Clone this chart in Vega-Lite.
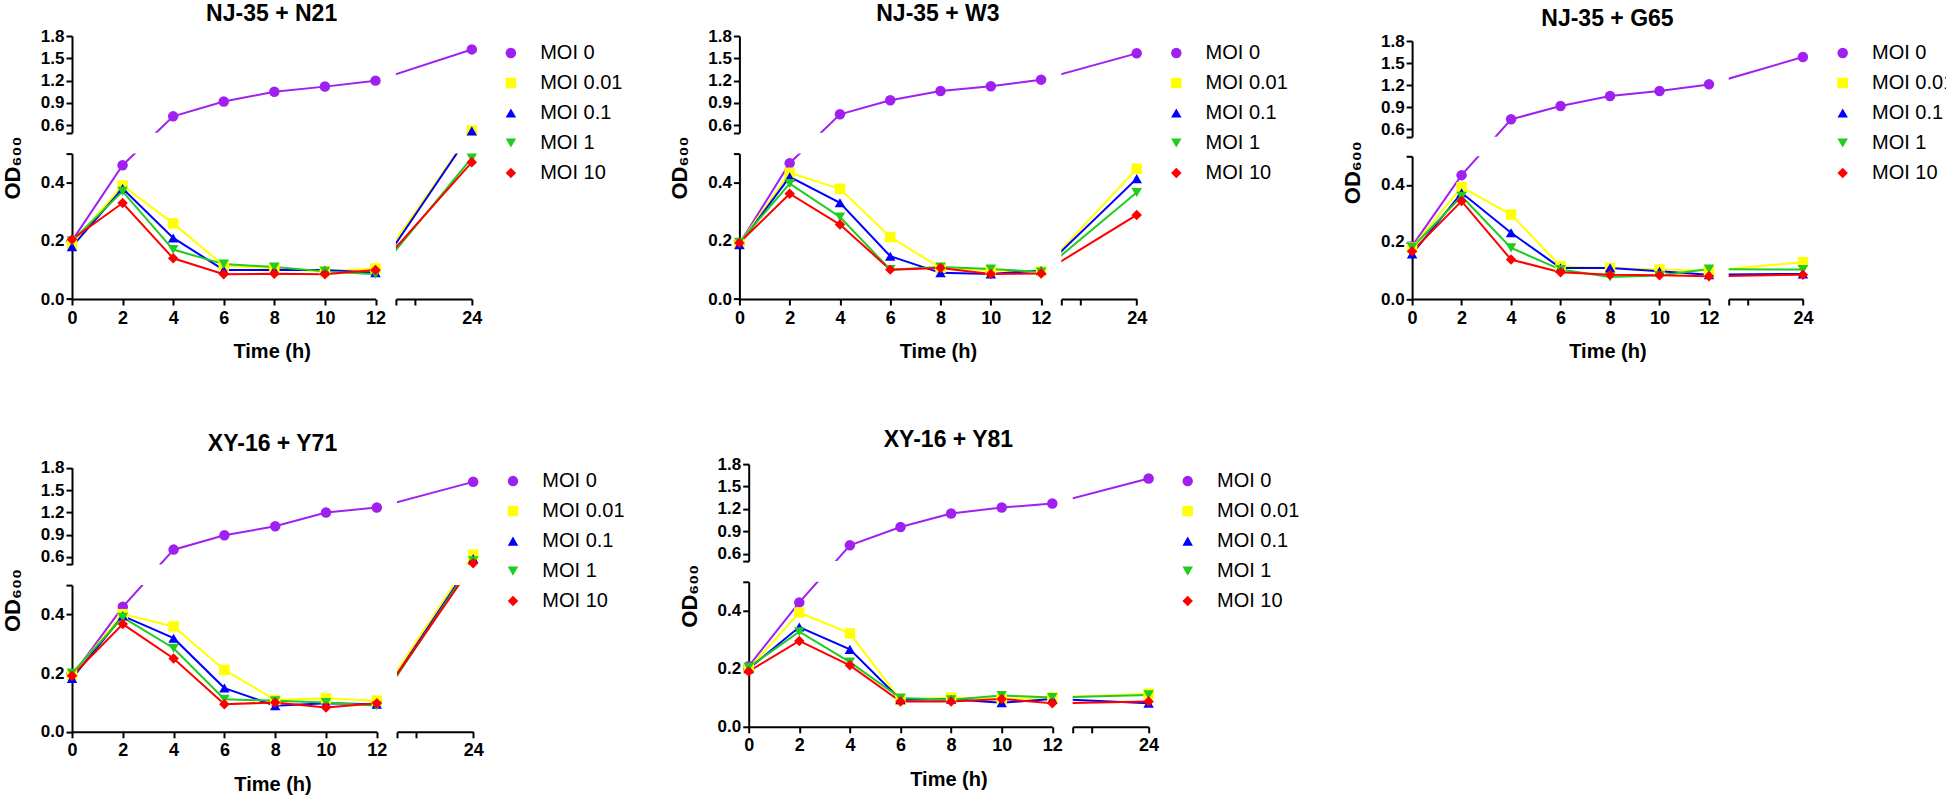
{
  "$schema": "https://vega.github.io/schema/vega-lite/v6.json",
  "background": "white",
  "padding": {"left": 1, "top": 3, "right": 0, "bottom": 0},
  "datasets": {
    "p1": [
      {"m":"MOI 0","t":0,"v":0.20},{"m":"MOI 0","t":2,"v":0.46},{"m":"MOI 0","t":4,"v":0.72},{"m":"MOI 0","t":6,"v":0.92},{"m":"MOI 0","t":8,"v":1.05},{"m":"MOI 0","t":10,"v":1.12},{"m":"MOI 0","t":12,"v":1.20},{"m":"MOI 0","t":24,"v":1.62},
      {"m":"MOI 0.01","t":0,"v":0.19},{"m":"MOI 0.01","t":2,"v":0.39},{"m":"MOI 0.01","t":4,"v":0.26},{"m":"MOI 0.01","t":6,"v":0.115},{"m":"MOI 0.01","t":8,"v":0.105},{"m":"MOI 0.01","t":10,"v":0.095},{"m":"MOI 0.01","t":12,"v":0.105},{"m":"MOI 0.01","t":24,"v":0.53},
      {"m":"MOI 0.1","t":0,"v":0.18},{"m":"MOI 0.1","t":2,"v":0.38},{"m":"MOI 0.1","t":4,"v":0.21},{"m":"MOI 0.1","t":6,"v":0.10},{"m":"MOI 0.1","t":8,"v":0.10},{"m":"MOI 0.1","t":10,"v":0.10},{"m":"MOI 0.1","t":12,"v":0.09},{"m":"MOI 0.1","t":24,"v":0.525},
      {"m":"MOI 1","t":0,"v":0.20},{"m":"MOI 1","t":2,"v":0.37},{"m":"MOI 1","t":4,"v":0.17},{"m":"MOI 1","t":6,"v":0.12},{"m":"MOI 1","t":8,"v":0.11},{"m":"MOI 1","t":10,"v":0.095},{"m":"MOI 1","t":12,"v":0.085},{"m":"MOI 1","t":24,"v":0.485},
      {"m":"MOI 10","t":0,"v":0.205},{"m":"MOI 10","t":2,"v":0.33},{"m":"MOI 10","t":4,"v":0.14},{"m":"MOI 10","t":6,"v":0.085},{"m":"MOI 10","t":8,"v":0.087},{"m":"MOI 10","t":10,"v":0.085},{"m":"MOI 10","t":12,"v":0.10},{"m":"MOI 10","t":24,"v":0.47}
    ],
    "p2": [
      {"m":"MOI 0","t":0,"v":0.19},{"m":"MOI 0","t":2,"v":0.467},{"m":"MOI 0","t":4,"v":0.748},{"m":"MOI 0","t":6,"v":0.936},{"m":"MOI 0","t":8,"v":1.061},{"m":"MOI 0","t":10,"v":1.124},{"m":"MOI 0","t":12,"v":1.213},{"m":"MOI 0","t":24,"v":1.567},
      {"m":"MOI 0.01","t":0,"v":0.19},{"m":"MOI 0.01","t":2,"v":0.434},{"m":"MOI 0.01","t":4,"v":0.379},{"m":"MOI 0.01","t":6,"v":0.213},{"m":"MOI 0.01","t":8,"v":0.107},{"m":"MOI 0.01","t":10,"v":0.098},{"m":"MOI 0.01","t":12,"v":0.095},{"m":"MOI 0.01","t":24,"v":0.448},
      {"m":"MOI 0.1","t":0,"v":0.187},{"m":"MOI 0.1","t":2,"v":0.42},{"m":"MOI 0.1","t":4,"v":0.331},{"m":"MOI 0.1","t":6,"v":0.147},{"m":"MOI 0.1","t":8,"v":0.09},{"m":"MOI 0.1","t":10,"v":0.086},{"m":"MOI 0.1","t":12,"v":0.098},{"m":"MOI 0.1","t":24,"v":0.414},
      {"m":"MOI 1","t":0,"v":0.195},{"m":"MOI 1","t":2,"v":0.397},{"m":"MOI 1","t":4,"v":0.282},{"m":"MOI 1","t":6,"v":0.101},{"m":"MOI 1","t":8,"v":0.11},{"m":"MOI 1","t":10,"v":0.103},{"m":"MOI 1","t":12,"v":0.093},{"m":"MOI 1","t":24,"v":0.366},
      {"m":"MOI 10","t":0,"v":0.193},{"m":"MOI 10","t":2,"v":0.362},{"m":"MOI 10","t":4,"v":0.256},{"m":"MOI 10","t":6,"v":0.101},{"m":"MOI 10","t":8,"v":0.107},{"m":"MOI 10","t":10,"v":0.086},{"m":"MOI 10","t":12,"v":0.088},{"m":"MOI 10","t":24,"v":0.289}
    ],
    "p3": [
      {"m":"MOI 0","t":0,"v":0.185},{"m":"MOI 0","t":2,"v":0.434},{"m":"MOI 0","t":4,"v":0.736},{"m":"MOI 0","t":6,"v":0.917},{"m":"MOI 0","t":8,"v":1.053},{"m":"MOI 0","t":10,"v":1.121},{"m":"MOI 0","t":12,"v":1.211},{"m":"MOI 0","t":24,"v":1.583},
      {"m":"MOI 0.01","t":0,"v":0.18},{"m":"MOI 0.01","t":2,"v":0.392},{"m":"MOI 0.01","t":4,"v":0.296},{"m":"MOI 0.01","t":6,"v":0.115},{"m":"MOI 0.01","t":8,"v":0.109},{"m":"MOI 0.01","t":10,"v":0.103},{"m":"MOI 0.01","t":12,"v":0.099},{"m":"MOI 0.01","t":24,"v":0.129},
      {"m":"MOI 0.1","t":0,"v":0.158},{"m":"MOI 0.1","t":2,"v":0.372},{"m":"MOI 0.1","t":4,"v":0.232},{"m":"MOI 0.1","t":6,"v":0.109},{"m":"MOI 0.1","t":8,"v":0.109},{"m":"MOI 0.1","t":10,"v":0.097},{"m":"MOI 0.1","t":12,"v":0.085},{"m":"MOI 0.1","t":24,"v":0.088},
      {"m":"MOI 1","t":0,"v":0.18},{"m":"MOI 1","t":2,"v":0.36},{"m":"MOI 1","t":4,"v":0.179},{"m":"MOI 1","t":6,"v":0.103},{"m":"MOI 1","t":8,"v":0.077},{"m":"MOI 1","t":10,"v":0.082},{"m":"MOI 1","t":12,"v":0.105},{"m":"MOI 1","t":24,"v":0.103},
      {"m":"MOI 10","t":0,"v":0.167},{"m":"MOI 10","t":2,"v":0.343},{"m":"MOI 10","t":4,"v":0.138},{"m":"MOI 10","t":6,"v":0.094},{"m":"MOI 10","t":8,"v":0.085},{"m":"MOI 10","t":10,"v":0.083},{"m":"MOI 10","t":12,"v":0.08},{"m":"MOI 10","t":24,"v":0.085}
    ],
    "p4": [
      {"m":"MOI 0","t":0,"v":0.19},{"m":"MOI 0","t":2,"v":0.426},{"m":"MOI 0","t":4,"v":0.699},{"m":"MOI 0","t":6,"v":0.892},{"m":"MOI 0","t":8,"v":1.013},{"m":"MOI 0","t":10,"v":1.198},{"m":"MOI 0","t":12,"v":1.265},{"m":"MOI 0","t":24,"v":1.611},
      {"m":"MOI 0.01","t":0,"v":0.195},{"m":"MOI 0.01","t":2,"v":0.401},{"m":"MOI 0.01","t":4,"v":0.359},{"m":"MOI 0.01","t":6,"v":0.211},{"m":"MOI 0.01","t":8,"v":0.108},{"m":"MOI 0.01","t":10,"v":0.114},{"m":"MOI 0.01","t":12,"v":0.106},{"m":"MOI 0.01","t":24,"v":0.63},
      {"m":"MOI 0.1","t":0,"v":0.182},{"m":"MOI 0.1","t":2,"v":0.395},{"m":"MOI 0.1","t":4,"v":0.319},{"m":"MOI 0.1","t":6,"v":0.149},{"m":"MOI 0.1","t":8,"v":0.089},{"m":"MOI 0.1","t":10,"v":0.097},{"m":"MOI 0.1","t":12,"v":0.094},{"m":"MOI 0.1","t":24,"v":0.58},
      {"m":"MOI 1","t":0,"v":0.2},{"m":"MOI 1","t":2,"v":0.39},{"m":"MOI 1","t":4,"v":0.285},{"m":"MOI 1","t":6,"v":0.111},{"m":"MOI 1","t":8,"v":0.106},{"m":"MOI 1","t":10,"v":0.1},{"m":"MOI 1","t":12,"v":0.089},{"m":"MOI 1","t":24,"v":0.55},
      {"m":"MOI 10","t":0,"v":0.191},{"m":"MOI 10","t":2,"v":0.367},{"m":"MOI 10","t":4,"v":0.25},{"m":"MOI 10","t":6,"v":0.094},{"m":"MOI 10","t":8,"v":0.1},{"m":"MOI 10","t":10,"v":0.083},{"m":"MOI 10","t":12,"v":0.097},{"m":"MOI 10","t":24,"v":0.515}
    ],
    "p5": [
      {"m":"MOI 0","t":0,"v":0.209},{"m":"MOI 0","t":2,"v":0.429},{"m":"MOI 0","t":4,"v":0.712},{"m":"MOI 0","t":6,"v":0.958},{"m":"MOI 0","t":8,"v":1.137},{"m":"MOI 0","t":10,"v":1.218},{"m":"MOI 0","t":12,"v":1.272},{"m":"MOI 0","t":24,"v":1.607},
      {"m":"MOI 0.01","t":0,"v":0.2},{"m":"MOI 0.01","t":2,"v":0.394},{"m":"MOI 0.01","t":4,"v":0.322},{"m":"MOI 0.01","t":6,"v":0.093},{"m":"MOI 0.01","t":8,"v":0.101},{"m":"MOI 0.01","t":10,"v":0.096},{"m":"MOI 0.01","t":12,"v":0.101},{"m":"MOI 0.01","t":24,"v":0.114},
      {"m":"MOI 0.1","t":0,"v":0.2},{"m":"MOI 0.1","t":2,"v":0.344},{"m":"MOI 0.1","t":4,"v":0.267},{"m":"MOI 0.1","t":6,"v":0.093},{"m":"MOI 0.1","t":8,"v":0.095},{"m":"MOI 0.1","t":10,"v":0.083},{"m":"MOI 0.1","t":12,"v":0.096},{"m":"MOI 0.1","t":24,"v":0.081},
      {"m":"MOI 1","t":0,"v":0.205},{"m":"MOI 1","t":2,"v":0.328},{"m":"MOI 1","t":4,"v":0.223},{"m":"MOI 1","t":6,"v":0.099},{"m":"MOI 1","t":8,"v":0.093},{"m":"MOI 1","t":10,"v":0.108},{"m":"MOI 1","t":12,"v":0.101},{"m":"MOI 1","t":24,"v":0.11},
      {"m":"MOI 10","t":0,"v":0.191},{"m":"MOI 10","t":2,"v":0.296},{"m":"MOI 10","t":4,"v":0.212},{"m":"MOI 10","t":6,"v":0.087},{"m":"MOI 10","t":8,"v":0.087},{"m":"MOI 10","t":10,"v":0.096},{"m":"MOI 10","t":12,"v":0.081},{"m":"MOI 10","t":24,"v":0.087}
    ]
  },
  "config": {
    "view": {"stroke": null},
    "font": "Liberation Sans",
    "axis": {"domainColor": "black", "domainWidth": 2, "tickColor": "black", "tickWidth": 2, "tickSize": 6, "labelFont": "Liberation Sans", "labelFontWeight": "bold", "labelColor": "black", "labelFontSize": 17, "titleFont": "Liberation Sans", "titleFontWeight": "bold", "titleColor": "black", "titleFontSize": 20, "grid": false, "zindex": 0, "labelOverlap": false, "labelFlush": false},
    "axisX": {"labelFontSize": 18, "labelPadding": 4, "titlePadding": 14.5},
    "axisY": {"titleFontSize": 22, "titlePadding": 16, "labelPadding": 2},
    "title": {"font": "Liberation Sans", "fontSize": 23, "fontWeight": "bold", "color": "black", "anchor": "middle", "frame": "group"},
    "legend": {"orient": "right", "offset": 22, "padding": 7, "rowPadding": 10, "symbolSize": 110, "labelFont": "Liberation Sans", "labelFontSize": 20, "labelColor": "black", "labelOffset": 19.3, "symbolOpacity": 1, "labelLimit": 300}
  },
  "spacing": 67.1,
  "resolve": {"scale": {"color": "independent", "shape": "independent", "stroke": "independent"}, "legend": {"color": "independent", "shape": "independent", "stroke": "independent"}},
  "vconcat": [
    {
      "spacing": 38.4,
      "resolve": {"scale": {"color": "independent", "shape": "independent", "stroke": "independent"}, "legend": {"color": "independent", "shape": "independent", "stroke": "independent"}},
      "hconcat": [
        {
          "data": {"name": "p1"},
          "columns": 2, "bounds": "flush", "spacing": {"row": 20.6, "column": 19.9},
          "resolve": {"scale": {"color": "independent", "shape": "independent", "stroke": "independent"}, "legend": {"color": "independent", "shape": "independent", "stroke": "independent"}},
          "concat": [
            {"width": 303.5, "height": 96.7,
             "title": {"text": "NJ-35 + N21", "offset": 0.9, "dx": 47.9},
             "resolve": {"scale": {"x": "independent", "y": "independent"}, "axis": {"x": "independent", "y": "independent"}},
             "layer": [
               {"mark": {"type": "line", "clip": true, "strokeWidth": 2}, "encoding": {
                 "x": {"field": "t", "type": "quantitative", "scale": {"domain": [0, 12, 21, 24], "range": [0, 303.5, 323.4, 399.3], "nice": false, "zero": false}, "axis": null},
                 "y": {"field": "v", "type": "quantitative", "scale": {"domain": [0, 0.5, 0.501, 1.8], "range": [262.7, 117.3, 96.7, 0], "nice": false, "zero": false}, "axis": null},
                 "stroke": {"field": "m", "type": "nominal", "scale": {"domain": ["MOI 10", "MOI 1", "MOI 0.1", "MOI 0.01", "MOI 0"], "range": ["#FF0000", "#1FCC1F", "#0000FF", "#FFFF00", "#A020F0"]}, "legend": null}}},
               {"transform": [{"filter": "datum.t <= 12 && datum.v > 0.5"}], "mark": {"type": "point", "filled": true, "opacity": 1, "size": 110}, "encoding": {
                 "x": {"field": "t", "type": "quantitative", "scale": {"domain": [0, 12], "range": [0, 303.5], "nice": false, "zero": false}, "axis": null},
                 "y": {"field": "v", "type": "quantitative", "scale": {"domain": [0.5, 1.8], "range": [96.7, 0], "nice": false, "zero": false}, "axis": {"orient": "left", "title": null, "values": [0.5, 0.6, 0.9, 1.2, 1.5, 1.8], "format": ".1f", "labelExpr": "datum.value == 0.5 ? '' : datum.label"}},
                 "color": {"field": "m", "type": "nominal", "scale": {"domain": ["MOI 0", "MOI 0.01", "MOI 0.1", "MOI 1", "MOI 10"], "range": ["#A020F0", "#FFFF00", "#0000FF", "#1FCC1F", "#FF0000"]}, "legend": null},
                 "shape": {"field": "m", "type": "nominal", "scale": {"domain": ["MOI 0", "MOI 0.01", "MOI 0.1", "MOI 1", "MOI 10"], "range": ["circle", "square", "triangle-up", "triangle-down", "diamond"]}, "legend": null}}}
             ]},
            {"width": 75.9, "height": 96.7,
             "resolve": {"scale": {"x": "independent", "y": "independent"}, "axis": {"x": "independent", "y": "independent"}},
             "layer": [
               {"mark": {"type": "line", "clip": true, "strokeWidth": 2}, "encoding": {
                 "x": {"field": "t", "type": "quantitative", "scale": {"domain": [0, 12, 21, 24], "range": [-323.4, -19.9, 0, 75.9], "nice": false, "zero": false}, "axis": null},
                 "y": {"field": "v", "type": "quantitative", "scale": {"domain": [0, 0.5, 0.501, 1.8], "range": [262.7, 117.3, 96.7, 0], "nice": false, "zero": false}, "axis": null},
                 "stroke": {"field": "m", "type": "nominal", "scale": {"domain": ["MOI 10", "MOI 1", "MOI 0.1", "MOI 0.01", "MOI 0"], "range": ["#FF0000", "#1FCC1F", "#0000FF", "#FFFF00", "#A020F0"]}, "legend": null}}},
               {"transform": [{"filter": "datum.t > 12 && datum.v > 0.5"}], "mark": {"type": "point", "filled": true, "opacity": 1, "size": 110}, "encoding": {
                 "x": {"field": "t", "type": "quantitative", "scale": {"domain": [21, 24], "range": [0, 75.9], "nice": false, "zero": false}, "axis": null},
                 "y": {"field": "v", "type": "quantitative", "scale": {"domain": [0.5, 1.8], "range": [96.7, 0], "nice": false, "zero": false}, "axis": null},
                 "color": {"field": "m", "type": "nominal", "scale": {"domain": ["MOI 0", "MOI 0.01", "MOI 0.1", "MOI 1", "MOI 10"], "range": ["#A020F0", "#FFFF00", "#0000FF", "#1FCC1F", "#FF0000"]}, "legend": {"title": null}},
                 "shape": {"field": "m", "type": "nominal", "scale": {"domain": ["MOI 0", "MOI 0.01", "MOI 0.1", "MOI 1", "MOI 10"], "range": ["circle", "square", "triangle-up", "triangle-down", "diamond"]}, "legend": {"title": null}}}}
             ]},
            {"width": 303.5, "height": 145.4,
             "resolve": {"scale": {"x": "independent", "y": "independent"}, "axis": {"x": "independent", "y": "independent"}},
             "layer": [
               {"mark": {"type": "line", "clip": true, "strokeWidth": 2}, "encoding": {
                 "x": {"field": "t", "type": "quantitative", "scale": {"domain": [0, 12, 21, 24], "range": [0, 303.5, 323.4, 399.3], "nice": false, "zero": false}, "axis": null},
                 "y": {"field": "v", "type": "quantitative", "scale": {"domain": [0, 0.5, 0.501, 1.8], "range": [145.4, 0, -20.6, -117.3], "nice": false, "zero": false}, "axis": null},
                 "stroke": {"field": "m", "type": "nominal", "scale": {"domain": ["MOI 10", "MOI 1", "MOI 0.1", "MOI 0.01", "MOI 0"], "range": ["#FF0000", "#1FCC1F", "#0000FF", "#FFFF00", "#A020F0"]}, "legend": null}}},
               {"transform": [{"filter": "datum.t <= 12 && datum.v <= 0.5"}], "mark": {"type": "point", "filled": true, "opacity": 1, "size": 110}, "encoding": {
                 "x": {"field": "t", "type": "quantitative", "scale": {"domain": [0, 12], "range": [0, 303.5], "nice": false, "zero": false}, "axis": {"orient": "bottom", "title": "Time (h)", "titleX": 199.65, "values": [0, 2, 4, 6, 8, 10, 12]}},
                 "y": {"field": "v", "type": "quantitative", "scale": {"domain": [0, 0.5], "range": [145.4, 0], "nice": false, "zero": false}, "axis": {"orient": "left", "title": "OD₆₀₀", "titleY": 14, "values": [0, 0.2, 0.4, 0.5], "format": ".1f", "labelExpr": "datum.value == 0.5 ? '' : datum.label"}},
                 "color": {"field": "m", "type": "nominal", "scale": {"domain": ["MOI 0", "MOI 0.01", "MOI 0.1", "MOI 1", "MOI 10"], "range": ["#A020F0", "#FFFF00", "#0000FF", "#1FCC1F", "#FF0000"]}, "legend": null},
                 "shape": {"field": "m", "type": "nominal", "scale": {"domain": ["MOI 0", "MOI 0.01", "MOI 0.1", "MOI 1", "MOI 10"], "range": ["circle", "square", "triangle-up", "triangle-down", "diamond"]}, "legend": null}}}
             ]},
            {"width": 75.9, "height": 145.4,
             "resolve": {"scale": {"x": "independent", "y": "independent"}, "axis": {"x": "independent", "y": "independent"}},
             "layer": [
               {"mark": {"type": "line", "clip": true, "strokeWidth": 2}, "encoding": {
                 "x": {"field": "t", "type": "quantitative", "scale": {"domain": [0, 12, 21, 24], "range": [-323.4, -19.9, 0, 75.9], "nice": false, "zero": false}, "axis": null},
                 "y": {"field": "v", "type": "quantitative", "scale": {"domain": [0, 0.5, 0.501, 1.8], "range": [145.4, 0, -20.6, -117.3], "nice": false, "zero": false}, "axis": null},
                 "stroke": {"field": "m", "type": "nominal", "scale": {"domain": ["MOI 10", "MOI 1", "MOI 0.1", "MOI 0.01", "MOI 0"], "range": ["#FF0000", "#1FCC1F", "#0000FF", "#FFFF00", "#A020F0"]}, "legend": null}}},
               {"transform": [{"filter": "datum.t > 12 && datum.v <= 0.5"}], "mark": {"type": "point", "filled": true, "opacity": 1, "size": 110}, "encoding": {
                 "x": {"field": "t", "type": "quantitative", "scale": {"domain": [21, 24], "range": [0, 75.9], "nice": false, "zero": false}, "axis": {"orient": "bottom", "title": null, "values": [21, 21.75, 24], "labelExpr": "datum.value == 24 ? datum.label : ''"}},
                 "y": {"field": "v", "type": "quantitative", "scale": {"domain": [0, 0.5], "range": [145.4, 0], "nice": false, "zero": false}, "axis": null},
                 "color": {"field": "m", "type": "nominal", "scale": {"domain": ["MOI 0", "MOI 0.01", "MOI 0.1", "MOI 1", "MOI 10"], "range": ["#A020F0", "#FFFF00", "#0000FF", "#1FCC1F", "#FF0000"]}, "legend": null},
                 "shape": {"field": "m", "type": "nominal", "scale": {"domain": ["MOI 0", "MOI 0.01", "MOI 0.1", "MOI 1", "MOI 10"], "range": ["circle", "square", "triangle-up", "triangle-down", "diamond"]}, "legend": null}}}
             ]}
          ]
        },
        {
          "spacing": 45.7,
          "resolve": {"scale": {"color": "independent", "shape": "independent", "stroke": "independent"}, "legend": {"color": "independent", "shape": "independent", "stroke": "independent"}},
          "hconcat": [
            {
              "data": {"name": "p2"},
              "columns": 2, "bounds": "flush", "spacing": {"row": 20.6, "column": 19.9},
              "resolve": {"scale": {"color": "independent", "shape": "independent", "stroke": "independent"}, "legend": {"color": "independent", "shape": "independent", "stroke": "independent"}},
              "concat": [
                {"width": 301.7, "height": 96.7,
                 "title": {"text": "NJ-35 + W3", "offset": 0.9, "dx": 47.65},
                 "resolve": {"scale": {"x": "independent", "y": "independent"}, "axis": {"x": "independent", "y": "independent"}},
                 "layer": [
                   {"mark": {"type": "line", "clip": true, "strokeWidth": 2}, "encoding": {
                     "x": {"field": "t", "type": "quantitative", "scale": {"domain": [0, 12, 21, 24], "range": [0, 301.7, 321.6, 397], "nice": false, "zero": false}, "axis": null},
                     "y": {"field": "v", "type": "quantitative", "scale": {"domain": [0, 0.5, 0.501, 1.8], "range": [262.7, 117.3, 96.7, 0], "nice": false, "zero": false}, "axis": null},
                     "stroke": {"field": "m", "type": "nominal", "scale": {"domain": ["MOI 10", "MOI 1", "MOI 0.1", "MOI 0.01", "MOI 0"], "range": ["#FF0000", "#1FCC1F", "#0000FF", "#FFFF00", "#A020F0"]}, "legend": null}}},
                   {"transform": [{"filter": "datum.t <= 12 && datum.v > 0.5"}], "mark": {"type": "point", "filled": true, "opacity": 1, "size": 110}, "encoding": {
                     "x": {"field": "t", "type": "quantitative", "scale": {"domain": [0, 12], "range": [0, 301.7], "nice": false, "zero": false}, "axis": null},
                     "y": {"field": "v", "type": "quantitative", "scale": {"domain": [0.5, 1.8], "range": [96.7, 0], "nice": false, "zero": false}, "axis": {"orient": "left", "title": null, "values": [0.5, 0.6, 0.9, 1.2, 1.5, 1.8], "format": ".1f", "labelExpr": "datum.value == 0.5 ? '' : datum.label"}},
                     "color": {"field": "m", "type": "nominal", "scale": {"domain": ["MOI 0", "MOI 0.01", "MOI 0.1", "MOI 1", "MOI 10"], "range": ["#A020F0", "#FFFF00", "#0000FF", "#1FCC1F", "#FF0000"]}, "legend": null},
                     "shape": {"field": "m", "type": "nominal", "scale": {"domain": ["MOI 0", "MOI 0.01", "MOI 0.1", "MOI 1", "MOI 10"], "range": ["circle", "square", "triangle-up", "triangle-down", "diamond"]}, "legend": null}}}
                 ]},
                {"width": 75.4, "height": 96.7,
                 "resolve": {"scale": {"x": "independent", "y": "independent"}, "axis": {"x": "independent", "y": "independent"}},
                 "layer": [
                   {"mark": {"type": "line", "clip": true, "strokeWidth": 2}, "encoding": {
                     "x": {"field": "t", "type": "quantitative", "scale": {"domain": [0, 12, 21, 24], "range": [-321.6, -19.9, 0, 75.4], "nice": false, "zero": false}, "axis": null},
                     "y": {"field": "v", "type": "quantitative", "scale": {"domain": [0, 0.5, 0.501, 1.8], "range": [262.7, 117.3, 96.7, 0], "nice": false, "zero": false}, "axis": null},
                     "stroke": {"field": "m", "type": "nominal", "scale": {"domain": ["MOI 10", "MOI 1", "MOI 0.1", "MOI 0.01", "MOI 0"], "range": ["#FF0000", "#1FCC1F", "#0000FF", "#FFFF00", "#A020F0"]}, "legend": null}}},
                   {"transform": [{"filter": "datum.t > 12 && datum.v > 0.5"}], "mark": {"type": "point", "filled": true, "opacity": 1, "size": 110}, "encoding": {
                     "x": {"field": "t", "type": "quantitative", "scale": {"domain": [21, 24], "range": [0, 75.4], "nice": false, "zero": false}, "axis": null},
                     "y": {"field": "v", "type": "quantitative", "scale": {"domain": [0.5, 1.8], "range": [96.7, 0], "nice": false, "zero": false}, "axis": null},
                     "color": {"field": "m", "type": "nominal", "scale": {"domain": ["MOI 0", "MOI 0.01", "MOI 0.1", "MOI 1", "MOI 10"], "range": ["#A020F0", "#FFFF00", "#0000FF", "#1FCC1F", "#FF0000"]}, "legend": {"title": null}},
                     "shape": {"field": "m", "type": "nominal", "scale": {"domain": ["MOI 0", "MOI 0.01", "MOI 0.1", "MOI 1", "MOI 10"], "range": ["circle", "square", "triangle-up", "triangle-down", "diamond"]}, "legend": {"title": null}}}}
                 ]},
                {"width": 301.7, "height": 145.4,
                 "resolve": {"scale": {"x": "independent", "y": "independent"}, "axis": {"x": "independent", "y": "independent"}},
                 "layer": [
                   {"mark": {"type": "line", "clip": true, "strokeWidth": 2}, "encoding": {
                     "x": {"field": "t", "type": "quantitative", "scale": {"domain": [0, 12, 21, 24], "range": [0, 301.7, 321.6, 397], "nice": false, "zero": false}, "axis": null},
                     "y": {"field": "v", "type": "quantitative", "scale": {"domain": [0, 0.5, 0.501, 1.8], "range": [145.4, 0, -20.6, -117.3], "nice": false, "zero": false}, "axis": null},
                     "stroke": {"field": "m", "type": "nominal", "scale": {"domain": ["MOI 10", "MOI 1", "MOI 0.1", "MOI 0.01", "MOI 0"], "range": ["#FF0000", "#1FCC1F", "#0000FF", "#FFFF00", "#A020F0"]}, "legend": null}}},
                   {"transform": [{"filter": "datum.t <= 12 && datum.v <= 0.5"}], "mark": {"type": "point", "filled": true, "opacity": 1, "size": 110}, "encoding": {
                     "x": {"field": "t", "type": "quantitative", "scale": {"domain": [0, 12], "range": [0, 301.7], "nice": false, "zero": false}, "axis": {"orient": "bottom", "title": "Time (h)", "titleX": 198.5, "values": [0, 2, 4, 6, 8, 10, 12]}},
                     "y": {"field": "v", "type": "quantitative", "scale": {"domain": [0, 0.5], "range": [145.4, 0], "nice": false, "zero": false}, "axis": {"orient": "left", "title": "OD₆₀₀", "titleY": 14, "values": [0, 0.2, 0.4, 0.5], "format": ".1f", "labelExpr": "datum.value == 0.5 ? '' : datum.label"}},
                     "color": {"field": "m", "type": "nominal", "scale": {"domain": ["MOI 0", "MOI 0.01", "MOI 0.1", "MOI 1", "MOI 10"], "range": ["#A020F0", "#FFFF00", "#0000FF", "#1FCC1F", "#FF0000"]}, "legend": null},
                     "shape": {"field": "m", "type": "nominal", "scale": {"domain": ["MOI 0", "MOI 0.01", "MOI 0.1", "MOI 1", "MOI 10"], "range": ["circle", "square", "triangle-up", "triangle-down", "diamond"]}, "legend": null}}}
                 ]},
                {"width": 75.4, "height": 145.4,
                 "resolve": {"scale": {"x": "independent", "y": "independent"}, "axis": {"x": "independent", "y": "independent"}},
                 "layer": [
                   {"mark": {"type": "line", "clip": true, "strokeWidth": 2}, "encoding": {
                     "x": {"field": "t", "type": "quantitative", "scale": {"domain": [0, 12, 21, 24], "range": [-321.6, -19.9, 0, 75.4], "nice": false, "zero": false}, "axis": null},
                     "y": {"field": "v", "type": "quantitative", "scale": {"domain": [0, 0.5, 0.501, 1.8], "range": [145.4, 0, -20.6, -117.3], "nice": false, "zero": false}, "axis": null},
                     "stroke": {"field": "m", "type": "nominal", "scale": {"domain": ["MOI 10", "MOI 1", "MOI 0.1", "MOI 0.01", "MOI 0"], "range": ["#FF0000", "#1FCC1F", "#0000FF", "#FFFF00", "#A020F0"]}, "legend": null}}},
                   {"transform": [{"filter": "datum.t > 12 && datum.v <= 0.5"}], "mark": {"type": "point", "filled": true, "opacity": 1, "size": 110}, "encoding": {
                     "x": {"field": "t", "type": "quantitative", "scale": {"domain": [21, 24], "range": [0, 75.4], "nice": false, "zero": false}, "axis": {"orient": "bottom", "title": null, "values": [21, 21.75, 24], "labelExpr": "datum.value == 24 ? datum.label : ''"}},
                     "y": {"field": "v", "type": "quantitative", "scale": {"domain": [0, 0.5], "range": [145.4, 0], "nice": false, "zero": false}, "axis": null},
                     "color": {"field": "m", "type": "nominal", "scale": {"domain": ["MOI 0", "MOI 0.01", "MOI 0.1", "MOI 1", "MOI 10"], "range": ["#A020F0", "#FFFF00", "#0000FF", "#1FCC1F", "#FF0000"]}, "legend": null},
                     "shape": {"field": "m", "type": "nominal", "scale": {"domain": ["MOI 0", "MOI 0.01", "MOI 0.1", "MOI 1", "MOI 10"], "range": ["circle", "square", "triangle-up", "triangle-down", "diamond"]}, "legend": null}}}
                 ]}
              ]
            },
            {
              "data": {"name": "p3"},
              "columns": 2, "bounds": "flush", "spacing": {"row": 19.3, "column": 19.6},
              "resolve": {"scale": {"color": "independent", "shape": "independent", "stroke": "independent"}, "legend": {"color": "independent", "shape": "independent", "stroke": "independent"}},
              "concat": [
                {"width": 296.9, "height": 100.7,
                 "title": {"text": "NJ-35 + G65", "offset": 1.2, "dx": 46.9},
                 "resolve": {"scale": {"x": "independent", "y": "independent"}, "axis": {"x": "independent", "y": "independent"}},
                 "layer": [
                   {"mark": {"type": "line", "clip": true, "strokeWidth": 2}, "encoding": {
                     "x": {"field": "t", "type": "quantitative", "scale": {"domain": [0, 12, 21, 24], "range": [0, 296.9, 316.5, 390.7], "nice": false, "zero": false}, "axis": null},
                     "y": {"field": "v", "type": "quantitative", "scale": {"domain": [0, 0.5, 0.501, 1.8], "range": [262.7, 120, 100.7, 5], "nice": false, "zero": false}, "axis": null},
                     "stroke": {"field": "m", "type": "nominal", "scale": {"domain": ["MOI 10", "MOI 1", "MOI 0.1", "MOI 0.01", "MOI 0"], "range": ["#FF0000", "#1FCC1F", "#0000FF", "#FFFF00", "#A020F0"]}, "legend": null}}},
                   {"transform": [{"filter": "datum.t <= 12 && datum.v > 0.5"}], "mark": {"type": "point", "filled": true, "opacity": 1, "size": 110}, "encoding": {
                     "x": {"field": "t", "type": "quantitative", "scale": {"domain": [0, 12], "range": [0, 296.9], "nice": false, "zero": false}, "axis": null},
                     "y": {"field": "v", "type": "quantitative", "scale": {"domain": [0.5, 1.8], "range": [100.7, 5], "nice": false, "zero": false}, "axis": {"orient": "left", "title": null, "values": [0.5, 0.6, 0.9, 1.2, 1.5, 1.8], "format": ".1f", "labelExpr": "datum.value == 0.5 ? '' : datum.label"}},
                     "color": {"field": "m", "type": "nominal", "scale": {"domain": ["MOI 0", "MOI 0.01", "MOI 0.1", "MOI 1", "MOI 10"], "range": ["#A020F0", "#FFFF00", "#0000FF", "#1FCC1F", "#FF0000"]}, "legend": null},
                     "shape": {"field": "m", "type": "nominal", "scale": {"domain": ["MOI 0", "MOI 0.01", "MOI 0.1", "MOI 1", "MOI 10"], "range": ["circle", "square", "triangle-up", "triangle-down", "diamond"]}, "legend": null}}}
                 ]},
                {"width": 74.2, "height": 100.7,
                 "resolve": {"scale": {"x": "independent", "y": "independent"}, "axis": {"x": "independent", "y": "independent"}},
                 "layer": [
                   {"mark": {"type": "line", "clip": true, "strokeWidth": 2}, "encoding": {
                     "x": {"field": "t", "type": "quantitative", "scale": {"domain": [0, 12, 21, 24], "range": [-316.5, -19.6, 0, 74.2], "nice": false, "zero": false}, "axis": null},
                     "y": {"field": "v", "type": "quantitative", "scale": {"domain": [0, 0.5, 0.501, 1.8], "range": [262.7, 120, 100.7, 5], "nice": false, "zero": false}, "axis": null},
                     "stroke": {"field": "m", "type": "nominal", "scale": {"domain": ["MOI 10", "MOI 1", "MOI 0.1", "MOI 0.01", "MOI 0"], "range": ["#FF0000", "#1FCC1F", "#0000FF", "#FFFF00", "#A020F0"]}, "legend": null}}},
                   {"transform": [{"filter": "datum.t > 12 && datum.v > 0.5"}], "mark": {"type": "point", "filled": true, "opacity": 1, "size": 110}, "encoding": {
                     "x": {"field": "t", "type": "quantitative", "scale": {"domain": [21, 24], "range": [0, 74.2], "nice": false, "zero": false}, "axis": null},
                     "y": {"field": "v", "type": "quantitative", "scale": {"domain": [0.5, 1.8], "range": [100.7, 5], "nice": false, "zero": false}, "axis": null},
                     "color": {"field": "m", "type": "nominal", "scale": {"domain": ["MOI 0", "MOI 0.01", "MOI 0.1", "MOI 1", "MOI 10"], "range": ["#A020F0", "#FFFF00", "#0000FF", "#1FCC1F", "#FF0000"]}, "legend": {"title": null}},
                     "shape": {"field": "m", "type": "nominal", "scale": {"domain": ["MOI 0", "MOI 0.01", "MOI 0.1", "MOI 1", "MOI 10"], "range": ["circle", "square", "triangle-up", "triangle-down", "diamond"]}, "legend": {"title": null}}}}
                 ]},
                {"width": 296.9, "height": 142.7,
                 "resolve": {"scale": {"x": "independent", "y": "independent"}, "axis": {"x": "independent", "y": "independent"}},
                 "layer": [
                   {"mark": {"type": "line", "clip": true, "strokeWidth": 2}, "encoding": {
                     "x": {"field": "t", "type": "quantitative", "scale": {"domain": [0, 12, 21, 24], "range": [0, 296.9, 316.5, 390.7], "nice": false, "zero": false}, "axis": null},
                     "y": {"field": "v", "type": "quantitative", "scale": {"domain": [0, 0.5, 0.501, 1.8], "range": [142.7, 0, -19.3, -115], "nice": false, "zero": false}, "axis": null},
                     "stroke": {"field": "m", "type": "nominal", "scale": {"domain": ["MOI 10", "MOI 1", "MOI 0.1", "MOI 0.01", "MOI 0"], "range": ["#FF0000", "#1FCC1F", "#0000FF", "#FFFF00", "#A020F0"]}, "legend": null}}},
                   {"transform": [{"filter": "datum.t <= 12 && datum.v <= 0.5"}], "mark": {"type": "point", "filled": true, "opacity": 1, "size": 110}, "encoding": {
                     "x": {"field": "t", "type": "quantitative", "scale": {"domain": [0, 12], "range": [0, 296.9], "nice": false, "zero": false}, "axis": {"orient": "bottom", "title": "Time (h)", "titleX": 195.35, "values": [0, 2, 4, 6, 8, 10, 12]}},
                     "y": {"field": "v", "type": "quantitative", "scale": {"domain": [0, 0.5], "range": [142.7, 0], "nice": false, "zero": false}, "axis": {"orient": "left", "title": "OD₆₀₀", "titleY": 16, "values": [0, 0.2, 0.4, 0.5], "format": ".1f", "labelExpr": "datum.value == 0.5 ? '' : datum.label"}},
                     "color": {"field": "m", "type": "nominal", "scale": {"domain": ["MOI 0", "MOI 0.01", "MOI 0.1", "MOI 1", "MOI 10"], "range": ["#A020F0", "#FFFF00", "#0000FF", "#1FCC1F", "#FF0000"]}, "legend": null},
                     "shape": {"field": "m", "type": "nominal", "scale": {"domain": ["MOI 0", "MOI 0.01", "MOI 0.1", "MOI 1", "MOI 10"], "range": ["circle", "square", "triangle-up", "triangle-down", "diamond"]}, "legend": null}}}
                 ]},
                {"width": 74.2, "height": 142.7,
                 "resolve": {"scale": {"x": "independent", "y": "independent"}, "axis": {"x": "independent", "y": "independent"}},
                 "layer": [
                   {"mark": {"type": "line", "clip": true, "strokeWidth": 2}, "encoding": {
                     "x": {"field": "t", "type": "quantitative", "scale": {"domain": [0, 12, 21, 24], "range": [-316.5, -19.6, 0, 74.2], "nice": false, "zero": false}, "axis": null},
                     "y": {"field": "v", "type": "quantitative", "scale": {"domain": [0, 0.5, 0.501, 1.8], "range": [142.7, 0, -19.3, -115], "nice": false, "zero": false}, "axis": null},
                     "stroke": {"field": "m", "type": "nominal", "scale": {"domain": ["MOI 10", "MOI 1", "MOI 0.1", "MOI 0.01", "MOI 0"], "range": ["#FF0000", "#1FCC1F", "#0000FF", "#FFFF00", "#A020F0"]}, "legend": null}}},
                   {"transform": [{"filter": "datum.t > 12 && datum.v <= 0.5"}], "mark": {"type": "point", "filled": true, "opacity": 1, "size": 110}, "encoding": {
                     "x": {"field": "t", "type": "quantitative", "scale": {"domain": [21, 24], "range": [0, 74.2], "nice": false, "zero": false}, "axis": {"orient": "bottom", "title": null, "values": [21, 21.75, 24], "labelExpr": "datum.value == 24 ? datum.label : ''"}},
                     "y": {"field": "v", "type": "quantitative", "scale": {"domain": [0, 0.5], "range": [142.7, 0], "nice": false, "zero": false}, "axis": null},
                     "color": {"field": "m", "type": "nominal", "scale": {"domain": ["MOI 0", "MOI 0.01", "MOI 0.1", "MOI 1", "MOI 10"], "range": ["#A020F0", "#FFFF00", "#0000FF", "#1FCC1F", "#FF0000"]}, "legend": null},
                     "shape": {"field": "m", "type": "nominal", "scale": {"domain": ["MOI 0", "MOI 0.01", "MOI 0.1", "MOI 1", "MOI 10"], "range": ["circle", "square", "triangle-up", "triangle-down", "diamond"]}, "legend": null}}}
                 ]}
              ]
            }
          ]
        }
      ]
    },
    {
      "spacing": 45.7,
      "resolve": {"scale": {"color": "independent", "shape": "independent", "stroke": "independent"}, "legend": {"color": "independent", "shape": "independent", "stroke": "independent"}},
      "hconcat": [
        {
          "data": {"name": "p4"},
          "columns": 2, "bounds": "flush", "spacing": {"row": 20, "column": 20},
          "resolve": {"scale": {"color": "independent", "shape": "independent", "stroke": "independent"}, "legend": {"color": "independent", "shape": "independent", "stroke": "independent"}},
          "concat": [
            {"width": 304.8, "height": 100.3,
             "title": {"text": "XY-16 + Y71", "offset": 2.6, "dx": 48.1},
             "resolve": {"scale": {"x": "independent", "y": "independent"}, "axis": {"x": "independent", "y": "independent"}},
             "layer": [
               {"mark": {"type": "line", "clip": true, "strokeWidth": 2}, "encoding": {
                 "x": {"field": "t", "type": "quantitative", "scale": {"domain": [0, 12, 21, 24], "range": [0, 304.8, 324.8, 401], "nice": false, "zero": false}, "axis": null},
                 "y": {"field": "v", "type": "quantitative", "scale": {"domain": [0, 0.5, 0.501, 1.8], "range": [267, 120.3, 100.3, 3.7], "nice": false, "zero": false}, "axis": null},
                 "stroke": {"field": "m", "type": "nominal", "scale": {"domain": ["MOI 10", "MOI 1", "MOI 0.1", "MOI 0.01", "MOI 0"], "range": ["#FF0000", "#1FCC1F", "#0000FF", "#FFFF00", "#A020F0"]}, "legend": null}}},
               {"transform": [{"filter": "datum.t <= 12 && datum.v > 0.5"}], "mark": {"type": "point", "filled": true, "opacity": 1, "size": 110}, "encoding": {
                 "x": {"field": "t", "type": "quantitative", "scale": {"domain": [0, 12], "range": [0, 304.8], "nice": false, "zero": false}, "axis": null},
                 "y": {"field": "v", "type": "quantitative", "scale": {"domain": [0.5, 1.8], "range": [100.3, 3.7], "nice": false, "zero": false}, "axis": {"orient": "left", "title": null, "values": [0.5, 0.6, 0.9, 1.2, 1.5, 1.8], "format": ".1f", "labelExpr": "datum.value == 0.5 ? '' : datum.label"}},
                 "color": {"field": "m", "type": "nominal", "scale": {"domain": ["MOI 0", "MOI 0.01", "MOI 0.1", "MOI 1", "MOI 10"], "range": ["#A020F0", "#FFFF00", "#0000FF", "#1FCC1F", "#FF0000"]}, "legend": null},
                 "shape": {"field": "m", "type": "nominal", "scale": {"domain": ["MOI 0", "MOI 0.01", "MOI 0.1", "MOI 1", "MOI 10"], "range": ["circle", "square", "triangle-up", "triangle-down", "diamond"]}, "legend": null}}}
             ]},
            {"width": 76.2, "height": 100.3,
             "resolve": {"scale": {"x": "independent", "y": "independent"}, "axis": {"x": "independent", "y": "independent"}},
             "layer": [
               {"mark": {"type": "line", "clip": true, "strokeWidth": 2}, "encoding": {
                 "x": {"field": "t", "type": "quantitative", "scale": {"domain": [0, 12, 21, 24], "range": [-324.8, -20, 0, 76.2], "nice": false, "zero": false}, "axis": null},
                 "y": {"field": "v", "type": "quantitative", "scale": {"domain": [0, 0.5, 0.501, 1.8], "range": [267, 120.3, 100.3, 3.7], "nice": false, "zero": false}, "axis": null},
                 "stroke": {"field": "m", "type": "nominal", "scale": {"domain": ["MOI 10", "MOI 1", "MOI 0.1", "MOI 0.01", "MOI 0"], "range": ["#FF0000", "#1FCC1F", "#0000FF", "#FFFF00", "#A020F0"]}, "legend": null}}},
               {"transform": [{"filter": "datum.t > 12 && datum.v > 0.5"}], "mark": {"type": "point", "filled": true, "opacity": 1, "size": 110}, "encoding": {
                 "x": {"field": "t", "type": "quantitative", "scale": {"domain": [21, 24], "range": [0, 76.2], "nice": false, "zero": false}, "axis": null},
                 "y": {"field": "v", "type": "quantitative", "scale": {"domain": [0.5, 1.8], "range": [100.3, 3.7], "nice": false, "zero": false}, "axis": null},
                 "color": {"field": "m", "type": "nominal", "scale": {"domain": ["MOI 0", "MOI 0.01", "MOI 0.1", "MOI 1", "MOI 10"], "range": ["#A020F0", "#FFFF00", "#0000FF", "#1FCC1F", "#FF0000"]}, "legend": {"title": null}},
                 "shape": {"field": "m", "type": "nominal", "scale": {"domain": ["MOI 0", "MOI 0.01", "MOI 0.1", "MOI 1", "MOI 10"], "range": ["circle", "square", "triangle-up", "triangle-down", "diamond"]}, "legend": {"title": null}}}}
             ]},
            {"width": 304.8, "height": 146.7,
             "resolve": {"scale": {"x": "independent", "y": "independent"}, "axis": {"x": "independent", "y": "independent"}},
             "layer": [
               {"mark": {"type": "line", "clip": true, "strokeWidth": 2}, "encoding": {
                 "x": {"field": "t", "type": "quantitative", "scale": {"domain": [0, 12, 21, 24], "range": [0, 304.8, 324.8, 401], "nice": false, "zero": false}, "axis": null},
                 "y": {"field": "v", "type": "quantitative", "scale": {"domain": [0, 0.5, 0.501, 1.8], "range": [146.7, 0, -20, -116.6], "nice": false, "zero": false}, "axis": null},
                 "stroke": {"field": "m", "type": "nominal", "scale": {"domain": ["MOI 10", "MOI 1", "MOI 0.1", "MOI 0.01", "MOI 0"], "range": ["#FF0000", "#1FCC1F", "#0000FF", "#FFFF00", "#A020F0"]}, "legend": null}}},
               {"transform": [{"filter": "datum.t <= 12 && datum.v <= 0.5"}], "mark": {"type": "point", "filled": true, "opacity": 1, "size": 110}, "encoding": {
                 "x": {"field": "t", "type": "quantitative", "scale": {"domain": [0, 12], "range": [0, 304.8], "nice": false, "zero": false}, "axis": {"orient": "bottom", "title": "Time (h)", "titleX": 200.5, "values": [0, 2, 4, 6, 8, 10, 12]}},
                 "y": {"field": "v", "type": "quantitative", "scale": {"domain": [0, 0.5], "range": [146.7, 0], "nice": false, "zero": false}, "axis": {"orient": "left", "title": "OD₆₀₀", "titleY": 15, "values": [0, 0.2, 0.4, 0.5], "format": ".1f", "labelExpr": "datum.value == 0.5 ? '' : datum.label"}},
                 "color": {"field": "m", "type": "nominal", "scale": {"domain": ["MOI 0", "MOI 0.01", "MOI 0.1", "MOI 1", "MOI 10"], "range": ["#A020F0", "#FFFF00", "#0000FF", "#1FCC1F", "#FF0000"]}, "legend": null},
                 "shape": {"field": "m", "type": "nominal", "scale": {"domain": ["MOI 0", "MOI 0.01", "MOI 0.1", "MOI 1", "MOI 10"], "range": ["circle", "square", "triangle-up", "triangle-down", "diamond"]}, "legend": null}}}
             ]},
            {"width": 76.2, "height": 146.7,
             "resolve": {"scale": {"x": "independent", "y": "independent"}, "axis": {"x": "independent", "y": "independent"}},
             "layer": [
               {"mark": {"type": "line", "clip": true, "strokeWidth": 2}, "encoding": {
                 "x": {"field": "t", "type": "quantitative", "scale": {"domain": [0, 12, 21, 24], "range": [-324.8, -20, 0, 76.2], "nice": false, "zero": false}, "axis": null},
                 "y": {"field": "v", "type": "quantitative", "scale": {"domain": [0, 0.5, 0.501, 1.8], "range": [146.7, 0, -20, -116.6], "nice": false, "zero": false}, "axis": null},
                 "stroke": {"field": "m", "type": "nominal", "scale": {"domain": ["MOI 10", "MOI 1", "MOI 0.1", "MOI 0.01", "MOI 0"], "range": ["#FF0000", "#1FCC1F", "#0000FF", "#FFFF00", "#A020F0"]}, "legend": null}}},
               {"transform": [{"filter": "datum.t > 12 && datum.v <= 0.5"}], "mark": {"type": "point", "filled": true, "opacity": 1, "size": 110}, "encoding": {
                 "x": {"field": "t", "type": "quantitative", "scale": {"domain": [21, 24], "range": [0, 76.2], "nice": false, "zero": false}, "axis": {"orient": "bottom", "title": null, "values": [21, 21.75, 24], "labelExpr": "datum.value == 24 ? datum.label : ''"}},
                 "y": {"field": "v", "type": "quantitative", "scale": {"domain": [0, 0.5], "range": [146.7, 0], "nice": false, "zero": false}, "axis": null},
                 "color": {"field": "m", "type": "nominal", "scale": {"domain": ["MOI 0", "MOI 0.01", "MOI 0.1", "MOI 1", "MOI 10"], "range": ["#A020F0", "#FFFF00", "#0000FF", "#1FCC1F", "#FF0000"]}, "legend": null},
                 "shape": {"field": "m", "type": "nominal", "scale": {"domain": ["MOI 0", "MOI 0.01", "MOI 0.1", "MOI 1", "MOI 10"], "range": ["circle", "square", "triangle-up", "triangle-down", "diamond"]}, "legend": null}}}
             ]}
          ]
        },
        {
          "data": {"name": "p5"},
          "columns": 2, "bounds": "flush", "spacing": {"row": 20.7, "column": 20},
          "resolve": {"scale": {"color": "independent", "shape": "independent", "stroke": "independent"}, "legend": {"color": "independent", "shape": "independent", "stroke": "independent"}},
          "concat": [
            {"width": 303.6, "height": 97,
             "title": {"text": "XY-16 + Y81", "offset": 2.9, "dx": 47.95},
             "resolve": {"scale": {"x": "independent", "y": "independent"}, "axis": {"x": "independent", "y": "independent"}},
             "layer": [
               {"mark": {"type": "line", "clip": true, "strokeWidth": 2}, "encoding": {
                 "x": {"field": "t", "type": "quantitative", "scale": {"domain": [0, 12, 21, 24], "range": [0, 303.6, 323.6, 399.5], "nice": false, "zero": false}, "axis": null},
                 "y": {"field": "v", "type": "quantitative", "scale": {"domain": [0, 0.5, 0.501, 1.8], "range": [262.7, 117.7, 97, 0], "nice": false, "zero": false}, "axis": null},
                 "stroke": {"field": "m", "type": "nominal", "scale": {"domain": ["MOI 10", "MOI 1", "MOI 0.1", "MOI 0.01", "MOI 0"], "range": ["#FF0000", "#1FCC1F", "#0000FF", "#FFFF00", "#A020F0"]}, "legend": null}}},
               {"transform": [{"filter": "datum.t <= 12 && datum.v > 0.5"}], "mark": {"type": "point", "filled": true, "opacity": 1, "size": 110}, "encoding": {
                 "x": {"field": "t", "type": "quantitative", "scale": {"domain": [0, 12], "range": [0, 303.6], "nice": false, "zero": false}, "axis": null},
                 "y": {"field": "v", "type": "quantitative", "scale": {"domain": [0.5, 1.8], "range": [97, 0], "nice": false, "zero": false}, "axis": {"orient": "left", "title": null, "values": [0.5, 0.6, 0.9, 1.2, 1.5, 1.8], "format": ".1f", "labelExpr": "datum.value == 0.5 ? '' : datum.label"}},
                 "color": {"field": "m", "type": "nominal", "scale": {"domain": ["MOI 0", "MOI 0.01", "MOI 0.1", "MOI 1", "MOI 10"], "range": ["#A020F0", "#FFFF00", "#0000FF", "#1FCC1F", "#FF0000"]}, "legend": null},
                 "shape": {"field": "m", "type": "nominal", "scale": {"domain": ["MOI 0", "MOI 0.01", "MOI 0.1", "MOI 1", "MOI 10"], "range": ["circle", "square", "triangle-up", "triangle-down", "diamond"]}, "legend": null}}}
             ]},
            {"width": 75.9, "height": 97,
             "resolve": {"scale": {"x": "independent", "y": "independent"}, "axis": {"x": "independent", "y": "independent"}},
             "layer": [
               {"mark": {"type": "line", "clip": true, "strokeWidth": 2}, "encoding": {
                 "x": {"field": "t", "type": "quantitative", "scale": {"domain": [0, 12, 21, 24], "range": [-323.6, -20, 0, 75.9], "nice": false, "zero": false}, "axis": null},
                 "y": {"field": "v", "type": "quantitative", "scale": {"domain": [0, 0.5, 0.501, 1.8], "range": [262.7, 117.7, 97, 0], "nice": false, "zero": false}, "axis": null},
                 "stroke": {"field": "m", "type": "nominal", "scale": {"domain": ["MOI 10", "MOI 1", "MOI 0.1", "MOI 0.01", "MOI 0"], "range": ["#FF0000", "#1FCC1F", "#0000FF", "#FFFF00", "#A020F0"]}, "legend": null}}},
               {"transform": [{"filter": "datum.t > 12 && datum.v > 0.5"}], "mark": {"type": "point", "filled": true, "opacity": 1, "size": 110}, "encoding": {
                 "x": {"field": "t", "type": "quantitative", "scale": {"domain": [21, 24], "range": [0, 75.9], "nice": false, "zero": false}, "axis": null},
                 "y": {"field": "v", "type": "quantitative", "scale": {"domain": [0.5, 1.8], "range": [97, 0], "nice": false, "zero": false}, "axis": null},
                 "color": {"field": "m", "type": "nominal", "scale": {"domain": ["MOI 0", "MOI 0.01", "MOI 0.1", "MOI 1", "MOI 10"], "range": ["#A020F0", "#FFFF00", "#0000FF", "#1FCC1F", "#FF0000"]}, "legend": {"title": null}},
                 "shape": {"field": "m", "type": "nominal", "scale": {"domain": ["MOI 0", "MOI 0.01", "MOI 0.1", "MOI 1", "MOI 10"], "range": ["circle", "square", "triangle-up", "triangle-down", "diamond"]}, "legend": {"title": null}}}}
             ]},
            {"width": 303.6, "height": 145,
             "resolve": {"scale": {"x": "independent", "y": "independent"}, "axis": {"x": "independent", "y": "independent"}},
             "layer": [
               {"mark": {"type": "line", "clip": true, "strokeWidth": 2}, "encoding": {
                 "x": {"field": "t", "type": "quantitative", "scale": {"domain": [0, 12, 21, 24], "range": [0, 303.6, 323.6, 399.5], "nice": false, "zero": false}, "axis": null},
                 "y": {"field": "v", "type": "quantitative", "scale": {"domain": [0, 0.5, 0.501, 1.8], "range": [145, 0, -20.7, -117.7], "nice": false, "zero": false}, "axis": null},
                 "stroke": {"field": "m", "type": "nominal", "scale": {"domain": ["MOI 10", "MOI 1", "MOI 0.1", "MOI 0.01", "MOI 0"], "range": ["#FF0000", "#1FCC1F", "#0000FF", "#FFFF00", "#A020F0"]}, "legend": null}}},
               {"transform": [{"filter": "datum.t <= 12 && datum.v <= 0.5"}], "mark": {"type": "point", "filled": true, "opacity": 1, "size": 110}, "encoding": {
                 "x": {"field": "t", "type": "quantitative", "scale": {"domain": [0, 12], "range": [0, 303.6], "nice": false, "zero": false}, "axis": {"orient": "bottom", "title": "Time (h)", "titleX": 199.75, "values": [0, 2, 4, 6, 8, 10, 12]}},
                 "y": {"field": "v", "type": "quantitative", "scale": {"domain": [0, 0.5], "range": [145, 0], "nice": false, "zero": false}, "axis": {"orient": "left", "title": "OD₆₀₀", "titleY": 14, "values": [0, 0.2, 0.4, 0.5], "format": ".1f", "labelExpr": "datum.value == 0.5 ? '' : datum.label"}},
                 "color": {"field": "m", "type": "nominal", "scale": {"domain": ["MOI 0", "MOI 0.01", "MOI 0.1", "MOI 1", "MOI 10"], "range": ["#A020F0", "#FFFF00", "#0000FF", "#1FCC1F", "#FF0000"]}, "legend": null},
                 "shape": {"field": "m", "type": "nominal", "scale": {"domain": ["MOI 0", "MOI 0.01", "MOI 0.1", "MOI 1", "MOI 10"], "range": ["circle", "square", "triangle-up", "triangle-down", "diamond"]}, "legend": null}}}
             ]},
            {"width": 75.9, "height": 145,
             "resolve": {"scale": {"x": "independent", "y": "independent"}, "axis": {"x": "independent", "y": "independent"}},
             "layer": [
               {"mark": {"type": "line", "clip": true, "strokeWidth": 2}, "encoding": {
                 "x": {"field": "t", "type": "quantitative", "scale": {"domain": [0, 12, 21, 24], "range": [-323.6, -20, 0, 75.9], "nice": false, "zero": false}, "axis": null},
                 "y": {"field": "v", "type": "quantitative", "scale": {"domain": [0, 0.5, 0.501, 1.8], "range": [145, 0, -20.7, -117.7], "nice": false, "zero": false}, "axis": null},
                 "stroke": {"field": "m", "type": "nominal", "scale": {"domain": ["MOI 10", "MOI 1", "MOI 0.1", "MOI 0.01", "MOI 0"], "range": ["#FF0000", "#1FCC1F", "#0000FF", "#FFFF00", "#A020F0"]}, "legend": null}}},
               {"transform": [{"filter": "datum.t > 12 && datum.v <= 0.5"}], "mark": {"type": "point", "filled": true, "opacity": 1, "size": 110}, "encoding": {
                 "x": {"field": "t", "type": "quantitative", "scale": {"domain": [21, 24], "range": [0, 75.9], "nice": false, "zero": false}, "axis": {"orient": "bottom", "title": null, "values": [21, 21.75, 24], "labelExpr": "datum.value == 24 ? datum.label : ''"}},
                 "y": {"field": "v", "type": "quantitative", "scale": {"domain": [0, 0.5], "range": [145, 0], "nice": false, "zero": false}, "axis": null},
                 "color": {"field": "m", "type": "nominal", "scale": {"domain": ["MOI 0", "MOI 0.01", "MOI 0.1", "MOI 1", "MOI 10"], "range": ["#A020F0", "#FFFF00", "#0000FF", "#1FCC1F", "#FF0000"]}, "legend": null},
                 "shape": {"field": "m", "type": "nominal", "scale": {"domain": ["MOI 0", "MOI 0.01", "MOI 0.1", "MOI 1", "MOI 10"], "range": ["circle", "square", "triangle-up", "triangle-down", "diamond"]}, "legend": null}}}
             ]}
          ]
        }
      ]
    }
  ]
}
